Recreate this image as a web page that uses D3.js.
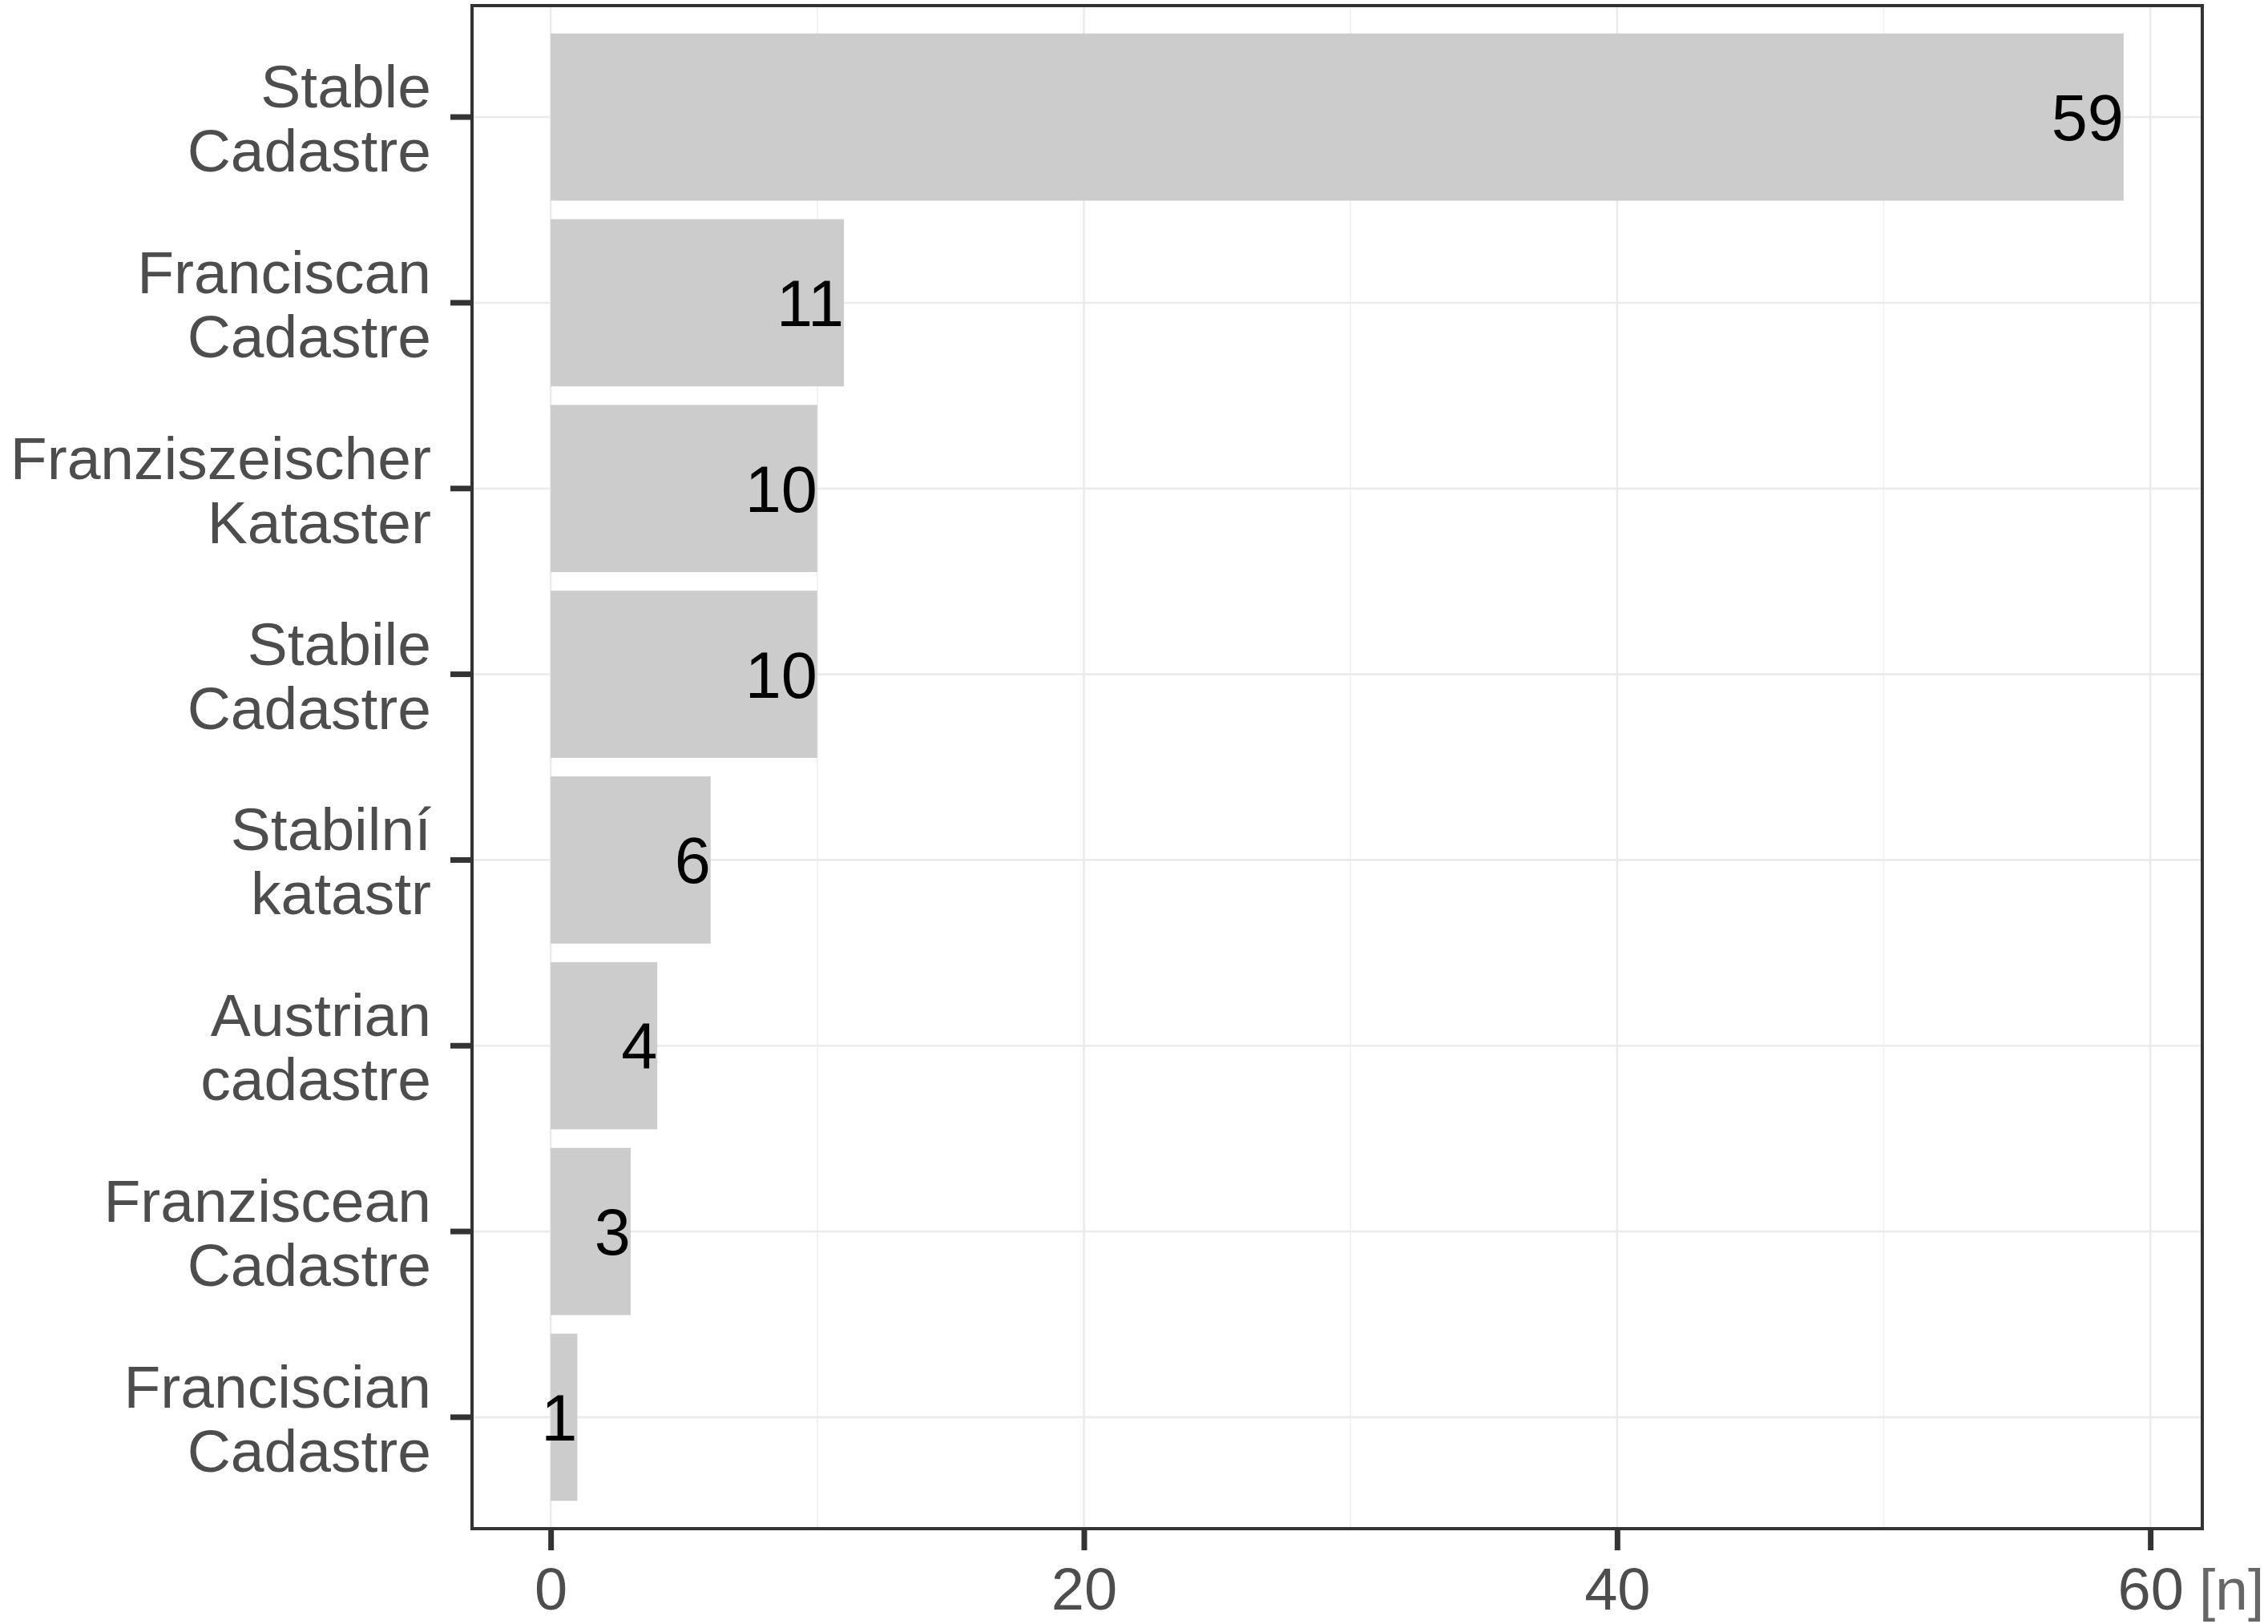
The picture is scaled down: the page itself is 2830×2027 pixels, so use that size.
<!DOCTYPE html>
<html>
<head>
<meta charset="utf-8">
<script src="https://cdn.jsdelivr.net/npm/d3@7"></script>
<style>
  html, body { margin: 0; padding: 0; background: #ffffff; }
  svg { display: block; }
</style>
</head>
<body>
<svg id="chart" width="2830" height="2027"></svg>
<script>
const categories = [
  ["Stable", "Cadastre"],
  ["Franciscan", "Cadastre"],
  ["Franziszeischer", "Kataster"],
  ["Stabile", "Cadastre"],
  ["Stabilní", "katastr"],
  ["Austrian", "cadastre"],
  ["Franziscean", "Cadastre"],
  ["Franciscian", "Cadastre"]
];
const values = [59, 11, 10, 10, 6, 4, 3, 1];
const majorTicks = [0, 20, 40, 60];
const minorTicks = [10, 30, 50];
const axisUnit = "[n]";

const svg = d3.select("#chart");
const font = "'Liberation Sans', Arial, sans-serif";
const panel = { left: 589, right: 2748, top: 7, bottom: 1908 };

const keys = categories.map((c, i) => i);
const x = d3.scaleLinear().domain([-2.95, 61.95]).range([panel.left, panel.right]);
const y = d3.scaleBand().domain(keys).range([panel.top, panel.bottom])
  .paddingInner(0.1).paddingOuter(0.15).align(0.5);

// background
svg.append("rect").attr("x", panel.left).attr("y", panel.top)
  .attr("width", panel.right - panel.left).attr("height", panel.bottom - panel.top)
  .attr("fill", "#ffffff");

// gridlines
const grid = svg.append("g");
grid.selectAll("line.minor").data(minorTicks).join("line")
  .attr("x1", d => x(d)).attr("x2", d => x(d))
  .attr("y1", panel.top).attr("y2", panel.bottom)
  .attr("stroke", "#f0f0f0").attr("stroke-width", 1.6);
grid.selectAll("line.majx").data(majorTicks).join("line")
  .attr("x1", d => x(d)).attr("x2", d => x(d))
  .attr("y1", panel.top).attr("y2", panel.bottom)
  .attr("stroke", "#ebebeb").attr("stroke-width", 2.6);
grid.selectAll("line.majy").data(keys).join("line")
  .attr("x1", panel.left).attr("x2", panel.right)
  .attr("y1", d => y(d) + y.bandwidth() / 2).attr("y2", d => y(d) + y.bandwidth() / 2)
  .attr("stroke", "#ebebeb").attr("stroke-width", 2.6);

// bars
svg.append("g").selectAll("rect").data(keys).join("rect")
  .attr("x", x(0)).attr("y", d => y(d))
  .attr("width", d => x(values[d]) - x(0))
  .attr("height", y.bandwidth())
  .attr("fill", "#cccccc");

// value labels
svg.append("g").selectAll("text").data(keys).join("text")
  .attr("x", d => x(values[d]))
  .attr("y", d => y(d) + y.bandwidth() / 2 + 29)
  .attr("text-anchor", "end")
  .attr("font-family", font).attr("font-size", 81)
  .attr("fill", "#000000")
  .text(d => values[d]);

// panel border
svg.append("rect").attr("x", panel.left).attr("y", panel.top)
  .attr("width", panel.right - panel.left).attr("height", panel.bottom - panel.top)
  .attr("fill", "none").attr("stroke", "#333333").attr("stroke-width", 4);

// x axis
const xAxis = d3.axisBottom(x).tickValues(majorTicks).tickSize(27).tickPadding(0).tickFormat(d3.format("d"));
const gx = svg.append("g").attr("transform", `translate(0,${panel.bottom})`).call(xAxis);
gx.select(".domain").remove();
gx.selectAll(".tick line").attr("stroke", "#333333").attr("stroke-width", 7);
gx.selectAll(".tick text").attr("font-family", font).attr("font-size", 74)
  .attr("fill", "#4d4d4d").attr("dy", null).attr("y", 101);

svg.append("text").attr("x", 2744).attr("y", 2009)
  .attr("font-family", font).attr("font-size", 73).attr("fill", "#666666")
  .text(axisUnit);

// y axis
const yAxis = d3.axisLeft(y).tickSize(27).tickFormat("");
const gy = svg.append("g").attr("transform", `translate(${panel.left},0)`).call(yAxis);
gy.select(".domain").remove();
gy.selectAll(".tick line").attr("stroke", "#333333").attr("stroke-width", 7);
gy.selectAll(".tick text").remove();

const labels = svg.append("g").selectAll("text").data(keys).join("text")
  .attr("text-anchor", "end")
  .attr("font-family", font).attr("font-size", 75).attr("fill", "#4d4d4d");
labels.each(function(d) {
  const cy = y(d) + y.bandwidth() / 2;
  const t = d3.select(this);
  categories[d].forEach((line, i) => {
    t.append("tspan").attr("x", 538).attr("y", cy - 12 + i * 80).text(line);
  });
});
</script>
</body>
</html>
